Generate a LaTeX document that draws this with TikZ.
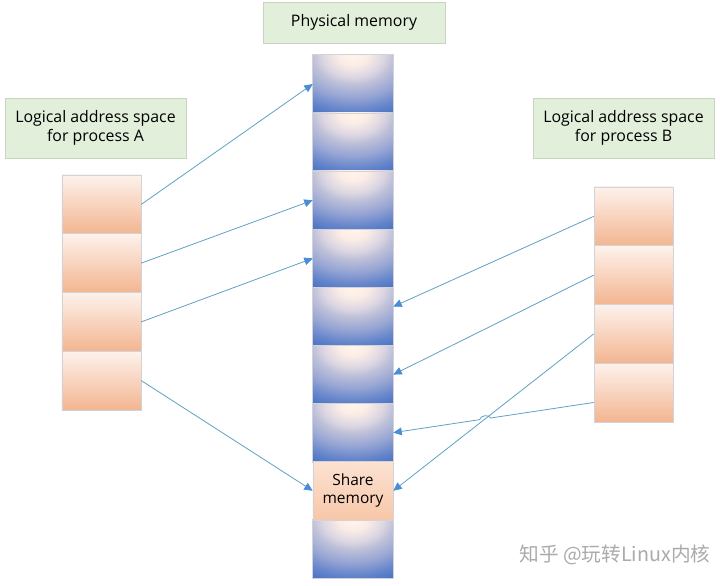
\documentclass[tikz,border=0pt]{standalone}
\usepackage{fontspec}
\setmainfont{Open Sans}
\newfontfamily\cjk{Noto Sans CJK SC}
\usepackage{tikz}
\usetikzlibrary{arrows.meta,calc,intersections,positioning}
\usepackage{xcolor}
\definecolor{memblue}{HTML}{4472C4}
\definecolor{glowA}{HTML}{FFF5EA}
\definecolor{glowB}{HTML}{FBEDE6}
\definecolor{glowC}{HTML}{DCD6E2}
\definecolor{glowD}{HTML}{BCBFD8}
\definecolor{glowE}{HTML}{98A6D4}
\definecolor{glowF}{HTML}{6585CB}
\definecolor{peachtop}{HTML}{FDF2EC}
\definecolor{peachmid}{HTML}{F6C6AB}
\definecolor{peachbot}{HTML}{F3B590}
\definecolor{sharetop}{HTML}{FCE2D2}
\definecolor{sharebot}{HTML}{F7C7A8}
\definecolor{tagfill}{HTML}{E2EFDA}
\definecolor{tagline}{HTML}{C8D4BE}
\definecolor{cellline}{HTML}{D2D2D8}
\definecolor{linkcol}{HTML}{5B9FC2}
\definecolor{tipblue}{HTML}{4A8CD6}
\definecolor{markgray}{HTML}{ABABAB}
\pgfdeclareradialshading{cellglow}{\pgfpointorigin}{color(0bp)=(glowA); color(4bp)=(glowB); color(8.5bp)=(glowC); color(11.5bp)=(glowD); color(16bp)=(glowE); color(21bp)=(glowF); color(25bp)=(memblue); color(50bp)=(memblue)}
\tikzset{memcell/.style={fill=memblue,minimum width=2cm,minimum height=1.452cm,inner sep=0pt},
 cellrim/.style={draw=cellline,line width=.4pt},
 sharecell/.style={draw=cellline,line width=.4pt,top color=sharetop,bottom color=sharebot,minimum width=2cm,minimum height=1.452cm,inner sep=0pt,align=center,font=\fontsize{11}{13}\selectfont},
 pagecell/.style={draw=cellline,line width=.4pt,top color=peachtop,middle color=peachmid,bottom color=peachbot,minimum width=1.975cm,minimum height=1.47cm,inner sep=0pt},
 tagbox/.style={draw=tagline,fill=tagfill,line width=.4pt,inner sep=2pt,align=center,font=\fontsize{11.3}{13.8}\selectfont},
 link/.style={draw=linkcol,line width=.55pt,-{Triangle[length=6pt,width=5.5pt,color=tipblue]}}}
\begin{document}
\begin{tikzpicture}[x=0.025cm,y=-0.025cm]
\useasboundingbox[fill=white] (0,0) rectangle (720,585);
% labels
\node[tagbox,minimum width=4.55cm,minimum height=1.025cm] (phystag) at (354,22.5) {Physical memory};
\node[tagbox,minimum width=4.525cm,minimum height=1.5cm] (tagA) at (95.5,128) {Logical address space\\for process A};
\node[tagbox,minimum width=4.525cm,minimum height=1.5cm] (tagB) at (623.5,128) {Logical address space\\for process B};
% physical memory column
\foreach \i in {1,...,7,9} {
 \node[memcell] (p\i) at (353,{55+58.1*(\i-0.5)}) {};
 \begin{scope}
  \clip (p\i.south west) rectangle (p\i.north east);
  \shade[shading=cellglow] ($(p\i.north)+(-2.25cm,-1.65cm)$) rectangle ($(p\i.north)+(2.25cm,1.65cm)$);
 \end{scope}
 \draw[cellrim] (p\i.south west) rectangle (p\i.north east);
}
\node[sharecell] (p8) at (353,{55+58.1*7.5}) {Share\\memory};
% process pages
\foreach \i in {1,...,4} {
 \node[pagecell] (a\i) at (101.5,{175+58.75*(\i-0.5)}) {};
 \node[pagecell] (b\i) at (633.5,{187+58.75*(\i-0.5)}) {};
}
% mappings of A
\draw[link] (a1.east) -- (p1.west);
\draw[link] (a2.east) -- (p3.west);
\draw[link] (a3.east) -- (p4.west);
\draw[link] (a4.east) -- (p8.west);
% mappings of B
\draw[link] (b1.west) -- ([yshift=7pt]p5.east);
\draw[link] (b2.west) -- (p6.east);
\draw[link,name path=shareB] (b3.west) -- (p8.east);
\path[name path=lowB] ([yshift=-7pt]b4.west) -- (p7.east);
\path[name intersections={of=shareB and lowB,by=X}];
\draw[link] ([yshift=-7pt]b4.west) -- ($(X)!4pt!([yshift=-7pt]b4.west)$) to[bend right=70] ($(X)!4pt!(p7.east)$) -- (p7.east);
% watermark
\node[text=markgray,font=\cjk\fontsize{14}{16}\selectfont] (mark) at (615,555) {知乎 @玩转Linux内核};
\end{tikzpicture}
\end{document}
